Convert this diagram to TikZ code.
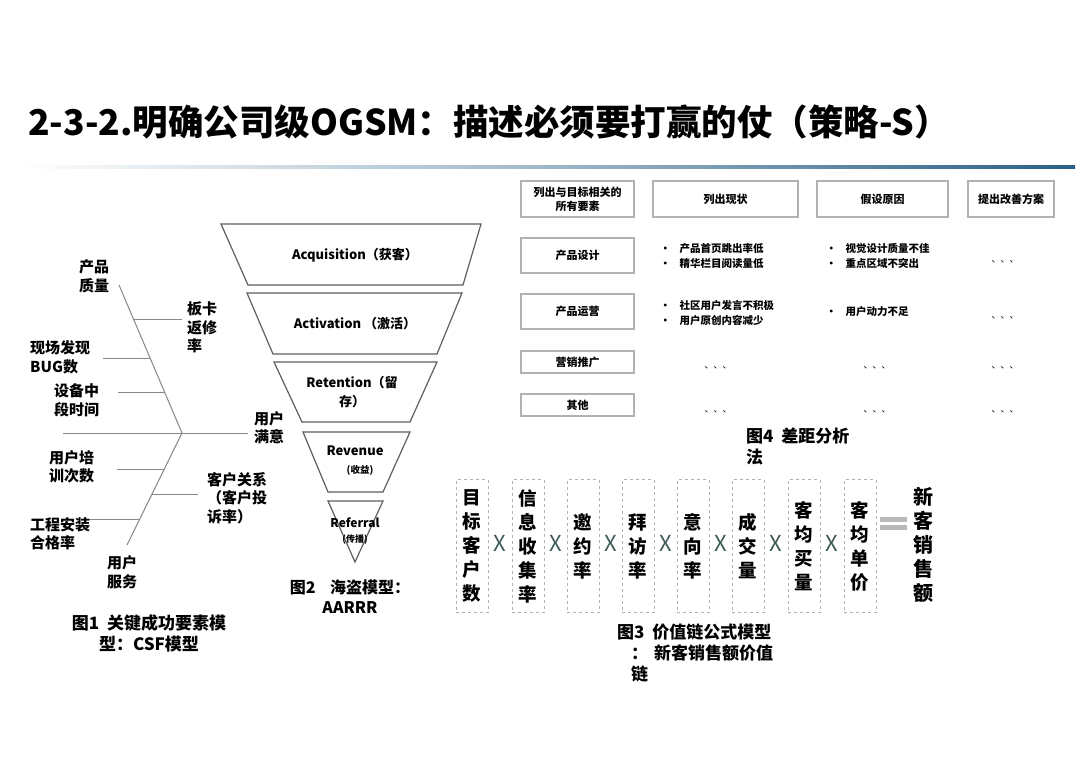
\documentclass[tikz,border=0pt]{standalone}
\usepackage{fontspec}
\setmainfont{Noto Sans CJK SC}
\usetikzlibrary{positioning}

\definecolor{ruleblue}{RGB}{42,96,134}
\definecolor{boxgray}{RGB}{178,178,178}
\definecolor{timesgreen}{RGB}{62,92,88}
\definecolor{fishgray}{RGB}{135,135,135}
\definecolor{funnelgray}{RGB}{95,95,95}

\begin{document}
\begin{tikzpicture}[x=1pt, y=-1pt,
  font=\bfseries,
  lbl/.style={align=left, anchor=west, inner sep=0pt, font=\bfseries\fontsize{15}{18.5}\selectfont},
  figcap/.style={inner sep=0pt, font=\bfseries\fontsize{17}{21}\selectfont},
  bone/.style={draw=fishgray, line width=1pt},
  layer/.style={draw=funnelgray, line width=1.2pt},
  stage/.style={align=center, inner sep=0pt, font=\bfseries\fontsize{13}{19}\selectfont},
  hbox/.style={draw=boxgray, line width=1.2pt, align=center, inner sep=0pt, font=\bfseries\fontsize{11}{14}\selectfont},
  bul/.style={anchor=west, align=left, inner sep=0pt, font=\bfseries\fontsize{10.5}{14.5}\selectfont},
  etc/.style={inner sep=0pt, font=\fontsize{9}{9}\selectfont},
  factor/.style={draw=boxgray, dashed, line width=1pt, minimum width=32pt, minimum height=133pt, inner sep=0pt, align=center, font=\bfseries\fontsize{18.5}{24}\selectfont},
  times/.style={text=timesgreen, inner sep=0pt, yshift=3pt, font=\mdseries\fontsize{22}{22}\selectfont}
]
\fill[white] (0,0) rectangle (1080,763);
\useasboundingbox (0,0) rectangle (1080,763);

% title and the shaded rule under it
\node[anchor=west, inner sep=0pt, font=\bfseries\fontsize{35.5}{40}\selectfont] (title) at (28,122) {2-3-2.明确公司级OGSM：描述必须要打赢的仗（策略-S）};
\shade[left color=white, right color=ruleblue, middle color=ruleblue!45] (15,165.5) rectangle (1075,168.5);

% Figure 1: fishbone (CSF)
\coordinate (head) at (182,433);
\coordinate (upper) at (119,285);
\coordinate (lower) at (127,545);
\draw[bone] (63,433) -- (248,433);
\draw[bone] (upper) -- (head) -- (lower);
\draw[bone] (133.5,319) -- (182,319);
\draw[bone] (103,358) -- (150,358);
\draw[bone] (118,392) -- (164.5,392);
\draw[bone] (117,469) -- (164.3,469);
\draw[bone] (152,494) -- (198,494);
\draw[bone] (85,519) -- (139.8,519);

\node[lbl] (quality) at (79,276.5) {产品\\质量};
\node[lbl] (repair) at (187,327.5) {板卡\\返修\\率};
\node[lbl] (bugs) at (30,357.5) {现场发现\\BUG数};
\node[lbl] (downtime) at (54,400.5) {设备中\\段时间};
\node[lbl] (satisfied) at (254,427.5) {用户\\满意};
\node[lbl] (training) at (49,467) {用户培\\训次数};
\node[lbl] (relation) at (207,498) {客户关系\\（客户投\\诉率）};
\node[lbl] (install) at (30,534) {工程安装\\合格率};
\node[lbl] (service) at (107,572.5) {用户\\服务};
\node[figcap, align=center] (cap1) at (149,633.5) {图1\ \ 关键成功要素模\\型：CSF模型};

% Figure 2: AARRR funnel
\draw[layer] (221,224) -- (481,224) -- (463,285) -- (248,285) -- cycle;
\draw[layer] (247,293) -- (462,293) -- (437,354) -- (273,354) -- cycle;
\draw[layer] (274,362) -- (437,362) -- (410,422) -- (302,422) -- cycle;
\draw[layer] (303,432) -- (410,432) -- (383,492) -- (328,492) -- cycle;
\draw[layer] (328,501) -- (383,501) -- (355,562) -- cycle;

\node[stage] (acq) at (355,255) {Acquisition（获客）};
\node[stage] (act) at (355,324) {Activation （激活）};
\node[stage] (ret) at (352,392) {Retention（留\\存）};
\node[stage] (rev) at (355,451) {Revenue};
\node[stage, font=\bfseries\fontsize{9.5}{10}\selectfont] (revcn) at (360,470) {(收益)};
\node[stage, font=\bfseries\fontsize{12}{12}\selectfont] (ref) at (355,523) {Referral};
\node[stage, font=\bfseries\fontsize{9}{10}\selectfont] (refcn) at (355,540) {(传播)};
\node[figcap, align=center, font=\bfseries\fontsize{16}{20}\selectfont] (cap2) at (350,597) {图2\ \ \ \ 海盗模型：\\AARRR};

% Figure 4: gap analysis table
\node[hbox, minimum width=113pt, minimum height=36pt] (elem) at (577.5,199) {列出与目标相关的\\所有要素};
\node[hbox, minimum width=145pt, minimum height=36pt] (now) at (725.5,199) {列出现状};
\node[hbox, minimum width=131pt, minimum height=36pt] (cause) at (882.5,199) {假设原因};
\node[hbox, minimum width=86pt, minimum height=36pt] (plan) at (1011,199) {提出改善方案};
\node[hbox, minimum width=113pt, minimum height=35pt] (design) at (577.5,255.5) {产品设计};
\node[hbox, minimum width=113pt, minimum height=35pt] (ops) at (577.5,311.5) {产品运营};
\node[hbox, minimum width=113pt, minimum height=22pt] (market) at (577.5,362) {营销推广};
\node[hbox, minimum width=113pt, minimum height=22pt] (other) at (577.5,405) {其他};

\node[bul] (nowa) at (660,256) {•\hspace{9pt}产品首页跳出率低\\•\hspace{9pt}精华栏目阅读量低};
\node[bul] (causea) at (826,256) {•\hspace{9pt}视觉设计质量不佳\\•\hspace{9pt}重点区域不突出};
\node[bul] (nowb) at (660,313) {•\hspace{9pt}社区用户发言不积极\\•\hspace{9pt}用户原创内容减少};
\node[bul] (causeb) at (826,312) {•\hspace{9pt}用户动力不足};
\node[etc] (plana) at (1005,262) {、、、};
\node[etc] (planb) at (1005,318) {、、、};
\node[etc] (nowc) at (718,368) {、、、};
\node[etc] (causec) at (877,368) {、、、};
\node[etc] (planc) at (1005,368) {、、、};
\node[etc] (nowd) at (718,412) {、、、};
\node[etc] (caused) at (877,412) {、、、};
\node[etc] (pland) at (1005,412) {、、、};
\node[figcap, anchor=north west, align=left] (cap4) at (746,428) {图4\ \ 差距分析\\法};

% Figure 3: value chain formula
\node[factor] (f1) at (472,546) {目\\标\\客\\户\\数};
\node[factor] (f2) at (528,546) {信\\息\\收\\集\\率};
\node[factor] (f3) at (583,546) {邀\\约\\率};
\node[factor] (f4) at (638,546) {拜\\访\\率};
\node[factor] (f5) at (693,546) {意\\向\\率};
\node[factor] (f6) at (748,546) {成\\交\\量};
\node[factor] (f7) at (804,546) {客\\均\\买\\量};
\node[factor] (f8) at (860,546) {客\\均\\单\\价};
\path (f1) -- (f2) node[times, midway] (x1) {X};
\path (f2) -- (f3) node[times, midway] (x2) {X};
\path (f3) -- (f4) node[times, midway] (x3) {X};
\path (f4) -- (f5) node[times, midway] (x4) {X};
\path (f5) -- (f6) node[times, midway] (x5) {X};
\path (f6) -- (f7) node[times, midway] (x6) {X};
\path (f7) -- (f8) node[times, midway] (x7) {X};
\fill[gray!55] (880,517) rectangle (907,522);
\fill[gray!55] (880,525) rectangle (907,530);
\node[inner sep=0pt, align=center, font=\bfseries\fontsize{20}{24}\selectfont] (sales) at (923,545) {新\\客\\销\\售\\额};
\node[figcap, anchor=north west, align=left] (cap3) at (617,624) {图3\ \ 价值链公式模型\\\hspace{14pt}：\hspace{6pt}新客销售额价值\\\hspace{14pt}链};
\end{tikzpicture}
\end{document}
